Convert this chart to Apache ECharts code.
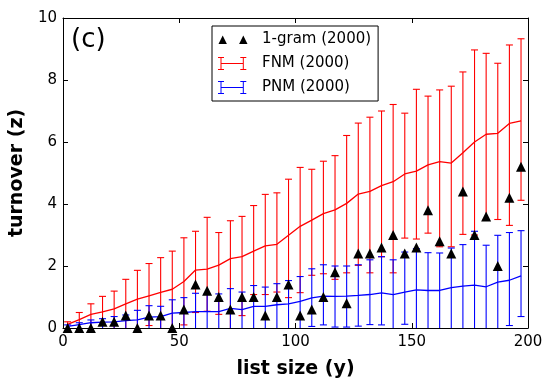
<!DOCTYPE html>
<html>
<head>
<meta charset="utf-8">
<script src="https://cdn.jsdelivr.net/npm/echarts@6/dist/echarts.min.js"></script>
<style>
  html, body { margin: 0; padding: 0; background: #fff; }
  #chart { width: 553px; height: 388px; }
</style>
</head>
<body>
<div id="chart"></div>
<script>
// list sizes (x positions of the points)
const listSize = [2, 7, 12, 17, 22, 27, 32, 37, 42, 47, 52, 57, 62, 67, 72, 77, 82, 87, 92, 97,
    102, 107, 112, 117, 122, 127, 132, 137, 142, 147, 152, 157, 162, 167, 172, 177, 182, 187, 192, 197];

// 1-gram (2000) turnover
const oneGram = [0, 0, 0, 0.2, 0.2, 0.4, 0, 0.4, 0.4, 0, 0.6, 1.4, 1.2, 1.0, 0.6, 1.0, 1.0, 0.4, 1.0, 1.4,
    0.4, 0.6, 1.0, 1.8, 0.8, 2.4, 2.4, 2.6, 3.0, 2.4, 2.6, 3.8, 2.8, 2.4, 4.4, 3.0, 3.6, 2.0, 4.2, 5.2];

// FNM (2000): mean, lower and upper end of error bar
const fnmMean = [0.12, 0.27, 0.44, 0.52, 0.62, 0.78, 0.93, 1.04, 1.15, 1.25, 1.5, 1.87, 1.9, 2.03, 2.24, 2.3, 2.48, 2.65, 2.7, 2.99,
    3.28, 3.48, 3.69, 3.81, 4.02, 4.32, 4.41, 4.59, 4.72, 4.97, 5.06, 5.26, 5.37, 5.32, 5.65, 6.0, 6.25, 6.28, 6.6, 6.68];
const fnmLow = [-0.3, -0.3, -0.3, -0.3, -0.3, -0.3, -0.3, 0.08, -0.3, -0.3, 0.1, 0.5, 0.54, 0.44, -0.1, 0.4, 1.08, 1.08, 1.16, 0.98,
    1.14, 1.7, 1.75, 1.57, 1.78, 2.02, 1.78, 2.3, 1.78, 2.9, 2.87, 3.06, 2.62, 2.62, 3.02, 3.0, 3.5, 3.5, 3.31, 4.12];
const fnmHigh = [0.2, 0.5, 0.78, 1.02, 1.19, 1.57, 1.86, 2.08, 2.27, 2.48, 2.91, 3.12, 3.57, 3.08, 3.46, 3.6, 3.95, 4.31, 4.36, 4.8,
    5.18, 5.12, 5.38, 5.56, 6.21, 6.61, 6.8, 7.0, 7.21, 6.93, 7.7, 7.48, 7.68, 7.8, 8.26, 8.97, 8.86, 8.54, 9.13, 9.33];

// PNM (2000): mean, lower and upper end of error bar
const pnmMean = [0.05, 0.11, 0.17, 0.19, 0.2, 0.24, 0.26, 0.35, 0.37, 0.48, 0.5, 0.53, 0.53, 0.53, 0.63, 0.59, 0.7, 0.7, 0.75, 0.78,
    0.86, 0.97, 1.03, 1.02, 1.03, 1.05, 1.08, 1.13, 1.08, 1.16, 1.23, 1.21, 1.21, 1.3, 1.35, 1.38, 1.33, 1.48, 1.54, 1.68];
const pnmLow = [-0.3, -0.3, -0.3, -0.3, -0.3, -0.3, -0.3, -0.3, -0.3, -0.3, -0.3, -0.3, -0.3, -0.3, -0.3, -0.3, -0.3, -0.3, -0.3, -0.3,
    -0.1, 0.05, 0.1, 0.03, 0.03, 0.06, 0.11, 0.1, -0.1, 0.12, -0.1, -0.1, -0.1, -0.1, -0.1, -0.1, -0.05, -0.02, 0.08, 0.37];
const pnmHigh = [0.1, 0.17, 0.26, 0.3, 0.37, 0.42, 0.57, 0.72, 0.7, 0.91, 0.98, 1.12, 1.1, 1.1, 1.27, 1.16, 1.37, 1.32, 1.43, 1.53,
    1.66, 1.91, 2.04, 2.0, 2.0, 2.04, 2.2, 2.3, 2.2, 2.45, 2.56, 2.43, 2.42, 2.58, 2.69, 3.12, 2.67, 2.99, 3.08, 3.14];

const xTicks = [0, 50, 100, 150, 200];
const yTicks = [0, 2, 4, 6, 8, 10];

const FONT = "DejaVu Sans";
const RED = "#ff0000";
const BLUE = "#0000ff";

// 误差棒
const errorBarRender = (color) => (params, api) => {
    const x = api.value(0);
    const lo = api.coord([x, api.value(1)]);
    const hi = api.coord([x, api.value(2)]);
    const w = 3.5;
    const style = { stroke: color, lineWidth: 1.1 };
    return {
        type: "group",
        children: [
            { type: "line", shape: { x1: lo[0], y1: lo[1], x2: hi[0], y2: hi[1] }, style: style },
            { type: "line", shape: { x1: lo[0] - w, y1: lo[1], x2: lo[0] + w, y2: lo[1] }, style: style },
            { type: "line", shape: { x1: hi[0] - w, y1: hi[1], x2: hi[0] + w, y2: hi[1] }, style: style },
        ],
    };
};

// legend glyphs, drawn in a 39 x 14 box (tiny corner dots fix the box size)
const corners = " M0,0h0.01v0.01h-0.01z M38.99,13.99h0.01v0.01h-0.01z";
const triIcon = "path://M0.5,11.5L4.7,3L8.9,11.5Z M21.1,11.5L25.3,3L29.5,11.5Z" + corners;
const barIcon = "path://M0,0.5h6v1h-6z M2.5,0.5h1v13h-1z M0,12.5h6v1h-6z M22.3,0.5h6v1h-6z M24.8,0.5h1v13h-1z M22.3,12.5h6v1h-6z M3,6.5h22.3v1h-22.3z" + corners;

const chart = echarts.init(document.getElementById("chart"), null, { renderer: "canvas" });

const axisCommon = {
    axisLine: { show: true, onZero: false, lineStyle: { color: "#000", width: 1 } },
    axisTick: { show: true, inside: true, length: 5, lineStyle: { color: "#000" } },
    splitLine: { show: false },
};

const option = {
    animation: false,
    backgroundColor: "#fff",
    title: {
        text: "(c)",
        left: 66,
        top: 22,
        textStyle: { fontFamily: FONT, fontSize: 26, fontWeight: "normal", color: "#000" },
    },
    legend: {
        orient: "vertical",
        left: 212,
        top: 26,
        padding: [6, 7, 6, 6],
        itemGap: 9,
        itemWidth: 39,
        itemHeight: 14,
        backgroundColor: "#fff",
        borderColor: "#000",
        borderWidth: 1,
        borderRadius: 0,
        selectedMode: false,
        textStyle: { fontFamily: FONT, fontSize: 15, color: "#000" },
        data: [
            { name: "1-gram (2000)", icon: triIcon, itemStyle: { color: "#000", opacity: 1, borderWidth: 0 } },
            { name: "FNM (2000)", icon: barIcon, itemStyle: { color: RED, opacity: 1, borderWidth: 0 } },
            { name: "PNM (2000)", icon: barIcon, itemStyle: { color: BLUE, opacity: 1, borderWidth: 0 } },
        ],
    },
    grid: { left: 63, right: 25, top: 18, bottom: 60 },
    xAxis: [
        Object.assign({}, axisCommon, {
            type: "value",
            min: 0,
            max: 200,
            interval: 50,
            name: "list size (y)",
            nameLocation: "middle",
            nameGap: 32,
            nameTextStyle: { fontFamily: FONT, fontSize: 19, fontWeight: "bold", color: "#000" },
            axisLabel: {
                margin: 7,
                fontFamily: FONT,
                fontSize: 15,
                color: "#000",
                formatter: (v) => (xTicks.includes(v) ? String(v) : ""),
            },
        }),
        Object.assign({}, axisCommon, {
            type: "value",
            position: "top",
            min: 0,
            max: 200,
            interval: 50,
            axisLabel: { show: false },
        }),
    ],
    yAxis: [
        Object.assign({}, axisCommon, {
            type: "value",
            min: 0,
            max: 10,
            interval: 2,
            name: "turnover (z)",
            nameLocation: "middle",
            nameGap: 36,
            nameTextStyle: { fontFamily: FONT, fontSize: 19, fontWeight: "bold", color: "#000" },
            axisLabel: {
                margin: 6,
                fontFamily: FONT,
                fontSize: 15,
                color: "#000",
                formatter: (v) => (yTicks.includes(v) ? String(v) : ""),
            },
        }),
        Object.assign({}, axisCommon, {
            type: "value",
            position: "right",
            min: 0,
            max: 10,
            interval: 2,
            axisLabel: { show: false },
        }),
    ],
    series: [
        {
            name: "FNM (2000)",
            type: "custom",
            clip: true,
            itemStyle: { color: RED },
            renderItem: errorBarRender(RED),
            data: listSize.map((x, i) => [x, fnmLow[i], fnmHigh[i]]),
            z: 2,
        },
        {
            name: "FNM mean",
            type: "line",
            clip: true,
            showSymbol: false,
            lineStyle: { color: RED, width: 1.3 },
            itemStyle: { color: RED },
            data: listSize.map((x, i) => [x, fnmMean[i]]),
            z: 2,
        },
        {
            name: "PNM (2000)",
            type: "custom",
            clip: true,
            itemStyle: { color: BLUE },
            renderItem: errorBarRender(BLUE),
            data: listSize.map((x, i) => [x, pnmLow[i], pnmHigh[i]]),
            z: 3,
        },
        {
            name: "PNM mean",
            type: "line",
            clip: true,
            showSymbol: false,
            lineStyle: { color: BLUE, width: 1.3 },
            itemStyle: { color: BLUE },
            data: listSize.map((x, i) => [x, pnmMean[i]]),
            z: 3,
        },
        {
            name: "1-gram (2000)",
            type: "scatter",
            symbol: "triangle",
            symbolSize: [10, 10],
            itemStyle: { color: "#000", opacity: 1 },
            data: listSize.map((x, i) => [x, oneGram[i]]),
            z: 5,
        },
    ],
};

chart.setOption(option);
</script>
</body>
</html>
